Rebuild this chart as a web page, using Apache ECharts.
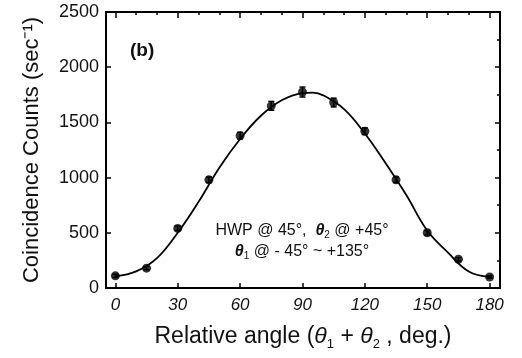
<!DOCTYPE html>
<html>
<head>
<meta charset="utf-8">
<script src="https://cdn.jsdelivr.net/npm/echarts@6/dist/echarts.min.js"></script>
<style>
  html, body { margin: 0; padding: 0; background: #fff; }
  #chart { width: 522px; height: 358px; }
</style>
</head>
<body>
<div id="chart"></div>
<script>
// measured points (relative angle, deg -> coincidence counts / s)
const angles = [0, 15, 30, 45, 60, 75, 90, 105, 120, 135, 150, 165, 180];
const counts = [110, 180, 540, 980, 1380, 1650, 1775, 1680, 1420, 980, 500, 260, 100];
const errors = [15, 15, 20, 25, 30, 40, 45, 40, 30, 25, 20, 15, 10];

// fitted curve
const fitAngles = [0, 10, 20, 30, 40, 50, 60, 70, 80, 90, 95, 100, 110, 120, 130, 140, 150, 160, 170, 180];
const fitCounts = [105, 150, 270, 500, 780, 1090, 1350, 1560, 1700, 1765, 1770, 1745, 1620, 1400, 1130, 840, 520, 320, 150, 100];

const xTicks = [0, 30, 60, 90, 120, 150, 180];
const xMinor = [0, 10, 20, 30, 40, 50, 60, 70, 80, 90, 100, 110, 120, 130, 140, 150, 160, 170, 180];
const yMinor = [250, 750, 1250, 1750, 2250];

const font = '"Liberation Sans", Arial, sans-serif';

let chart = echarts.init(document.getElementById('chart'));

const pts = angles.map((a, i) => [a, counts[i]]);
const bars = angles.map((a, i) => [a, counts[i] - errors[i], counts[i] + errors[i]]);
const fit = fitAngles.map((a, i) => [a, fitCounts[i]]);

// tick-only axis used to mirror the ticks on the top / right edges
const tickAxis = (pos, min, max, vals, len) => ({
  type: 'value', min: min, max: max, position: pos,
  axisLine: { show: false, onZero: false },
  splitLine: { show: false },
  axisLabel: { show: false, customValues: vals },
  axisTick: { show: true, inside: true, length: len, customValues: vals, lineStyle: { color: '#000', width: 1.5 } }
});

let option = {
  animation: false,
  backgroundColor: '#fff',
  grid: { left: 106, right: 22, top: 12, bottom: 70, show: true, borderColor: '#000', borderWidth: 2, backgroundColor: 'transparent' },
  xAxis: [
    {
      type: 'value', min: -4.5, max: 185, position: 'bottom',
      axisLine: { show: false, onZero: false },
      splitLine: { show: false },
      axisTick: { show: true, inside: true, length: 5, customValues: xTicks, lineStyle: { color: '#000', width: 1.5 } },
      axisLabel: { customValues: xTicks, color: '#111', fontSize: 17, fontStyle: 'italic', fontFamily: font, margin: 9 },
      name: '{n|Relative angle (}{t|θ}{s|1}{n| + }{t|θ}{s|2}{n| , deg.)}',
      nameLocation: 'middle', nameGap: 34,
      nameTextStyle: {
        rich: {
          n: { fontSize: 23, fontFamily: font, color: '#111' },
          t: { fontSize: 23, fontFamily: font, fontStyle: 'italic', color: '#111' },
          s: { fontSize: 13, fontFamily: font, color: '#111', padding: [16, 0, 0, 0] }
        }
      }
    },
    tickAxis('top', -4.5, 185, xTicks, 6),
    tickAxis('top', -4.5, 185, xMinor, 3)
  ],
  yAxis: [
    {
      type: 'value', min: 0, max: 2500, interval: 500, position: 'left',
      axisLine: { show: false, onZero: false },
      splitLine: { show: false },
      axisTick: { show: true, inside: true, length: 5, lineStyle: { color: '#000', width: 1.5 } },
      axisLabel: { color: '#111', fontSize: 18, fontFamily: font, margin: 7, formatter: v => String(v) },
      name: 'Coincidence Counts (sec⁻¹)',
      nameLocation: 'middle', nameGap: 63, nameRotate: 90,
      nameTextStyle: { fontSize: 22, fontFamily: font, color: '#111' }
    },
    tickAxis('right', 0, 2500, [0, 500, 1000, 1500, 2000, 2500], 5),
    tickAxis('right', 0, 2500, yMinor, 3)
  ],
  graphic: [
    { type: 'text', left: 130, top: 41, style: { text: '(b)', font: 'bold 19px ' + font, fill: '#111' } },
    {
      type: 'text', x: 302, y: 220,
      style: {
        text: '{n|HWP @ 45°,  }{t|θ}{s|2}{n| @ +45°}\n{t|θ}{s|1}{n| @ - 45° ~ +135°}',
        align: 'center',
        rich: {
          n: { font: '16px ' + font, fill: '#111', lineHeight: 21 },
          t: { font: 'italic bold 16px ' + font, fill: '#111', lineHeight: 21 },
          s: { font: '10px ' + font, fill: '#111', padding: [10, 0, 0, 0], lineHeight: 21 }
        }
      }
    }
  ],
  series: [
    {
      type: 'line', data: fit, smooth: 0.4, symbol: 'none',
      lineStyle: { color: '#000', width: 1.8 }, z: 2
    },
    {
      type: 'custom', data: bars, z: 3,
      renderItem: (params, api) => {
        const lo = api.coord([api.value(0), api.value(1)]);
        const hi = api.coord([api.value(0), api.value(2)]);
        const w = 3;
        const st = { stroke: '#000', lineWidth: 1.5 };
        return {
          type: 'group',
          children: [
            { type: 'line', shape: { x1: lo[0], y1: lo[1], x2: hi[0], y2: hi[1] }, style: st },
            { type: 'line', shape: { x1: lo[0] - w, y1: lo[1], x2: lo[0] + w, y2: lo[1] }, style: st },
            { type: 'line', shape: { x1: hi[0] - w, y1: hi[1], x2: hi[0] + w, y2: hi[1] }, style: st }
          ]
        };
      }
    },
    {
      type: 'scatter', data: pts, symbol: 'circle', symbolSize: 9,
      itemStyle: { color: '#000' }, z: 4
    }
  ]
};
chart.setOption(option);
</script>
</body>
</html>
